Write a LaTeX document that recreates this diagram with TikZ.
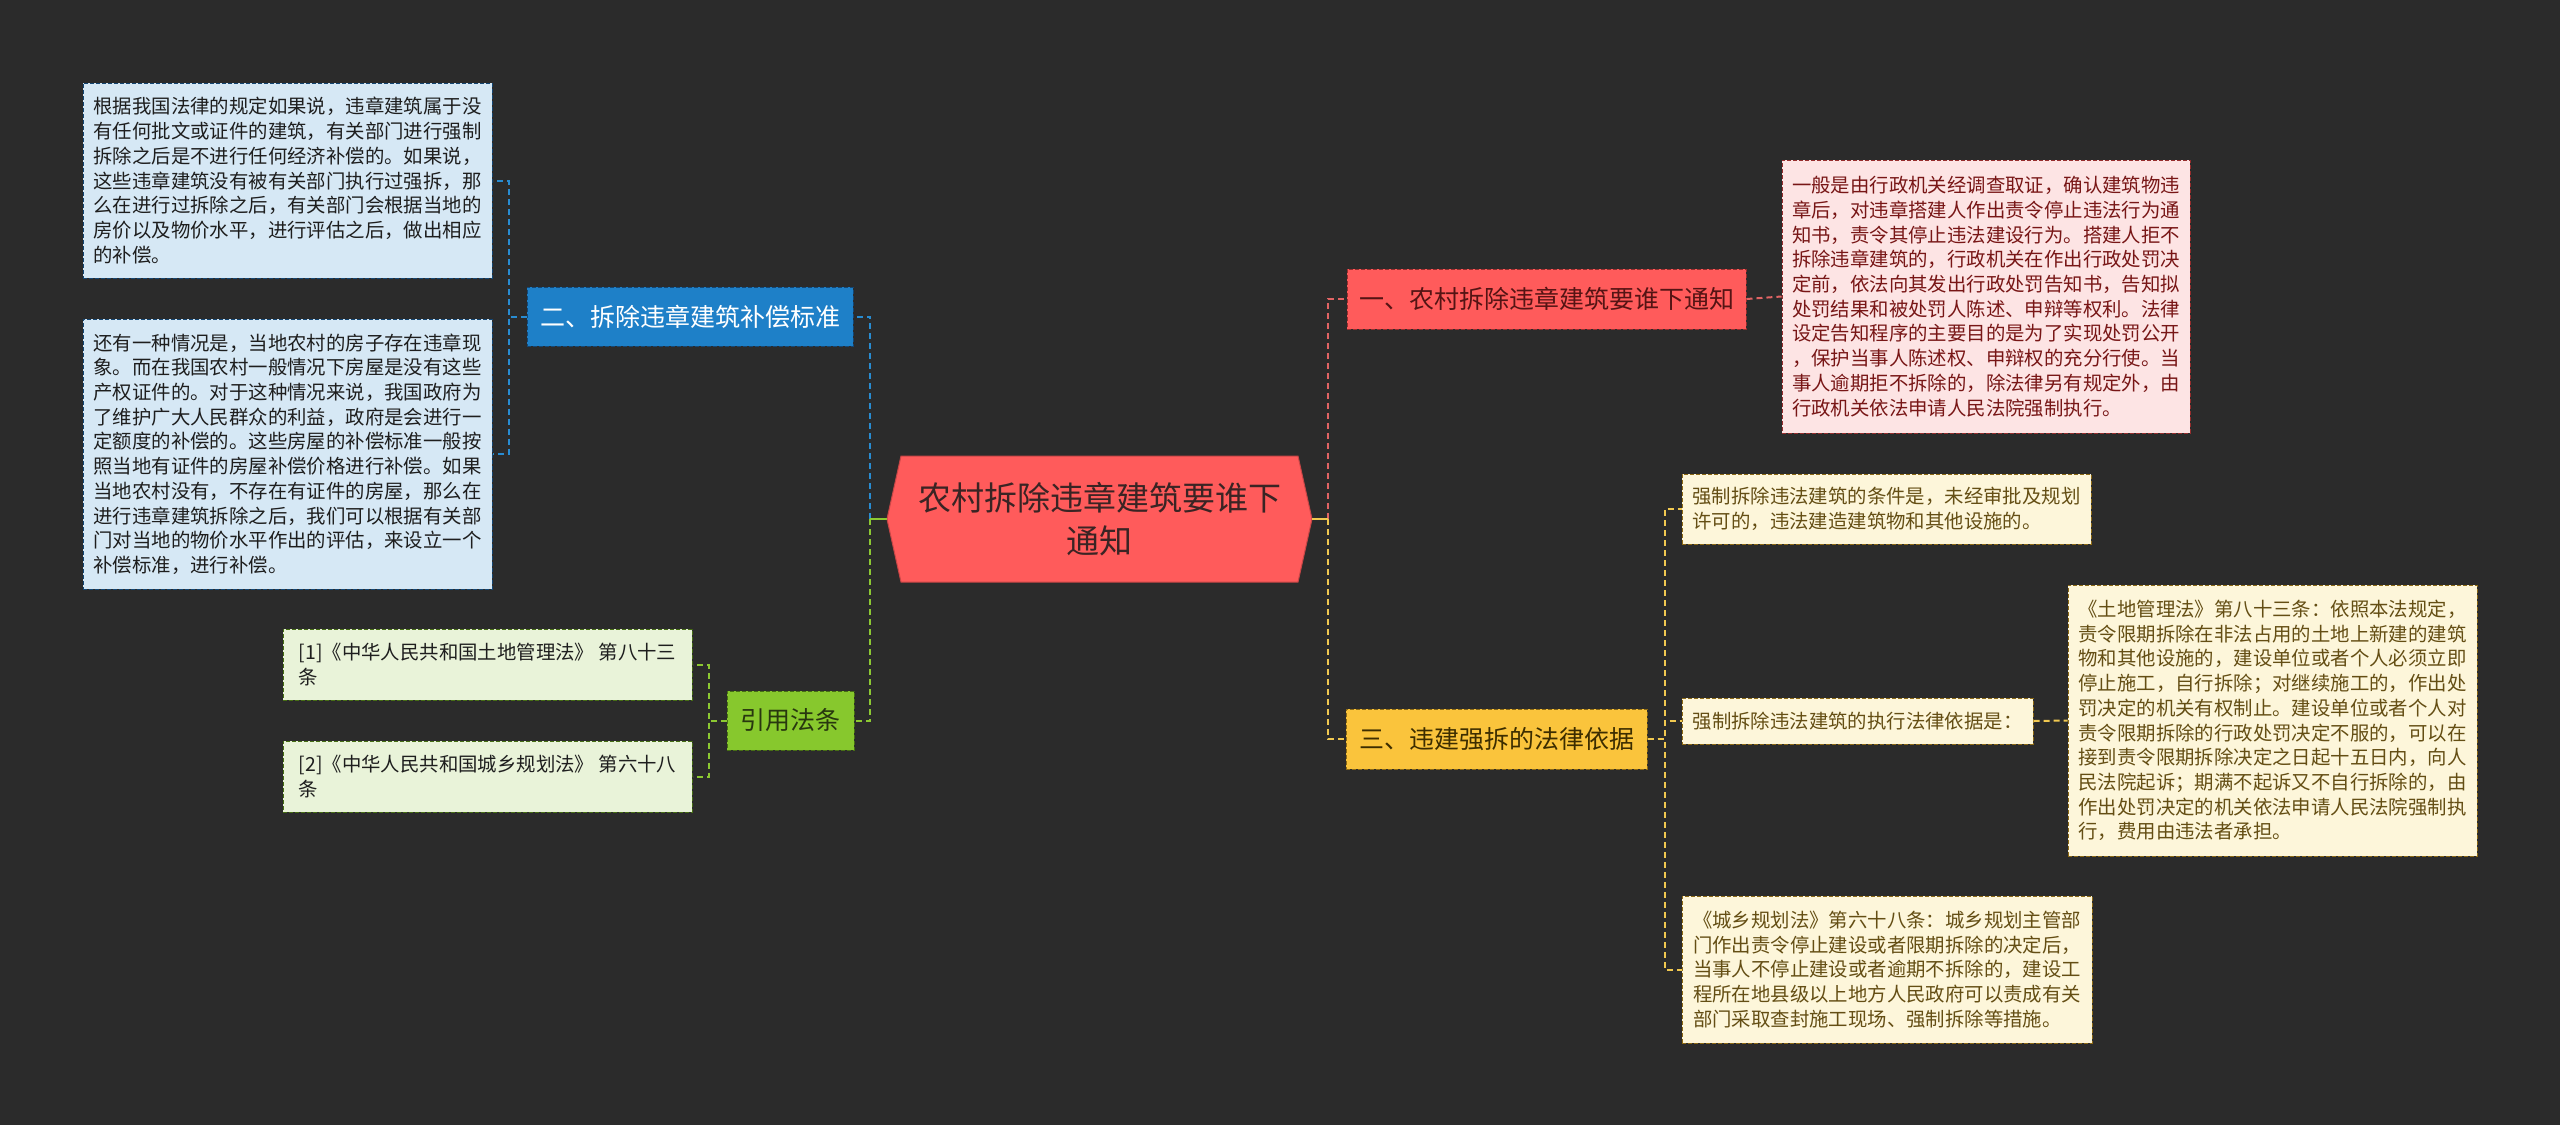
\documentclass[tikz,border=0pt]{standalone}
\usepackage{fontspec}
\setmainfont{Noto Sans CJK SC}
\usetikzlibrary{calc}
\definecolor{bg}{RGB}{43,43,43}
\definecolor{cfill}{RGB}{255,91,91}
\definecolor{cdraw}{RGB}{200,70,70}
\definecolor{ctext}{RGB}{58,36,36}
\definecolor{bluefill}{RGB}{30,128,200}
\definecolor{bluedraw}{RGB}{20,70,115}
\definecolor{bluelight}{RGB}{214,232,245}
\definecolor{bluec}{RGB}{40,140,210}
\definecolor{greenfill}{RGB}{135,200,45}
\definecolor{greendraw}{RGB}{70,110,20}
\definecolor{greenlight}{RGB}{233,243,217}
\definecolor{greenc}{RGB}{140,200,50}
\definecolor{greentext}{RGB}{40,55,15}
\definecolor{redfill}{RGB}{255,91,91}
\definecolor{reddraw}{RGB}{150,45,45}
\definecolor{redlight}{RGB}{253,228,228}
\definecolor{redc}{RGB}{225,100,100}
\definecolor{redtext}{RGB}{85,20,20}
\definecolor{redleaftext}{RGB}{120,22,22}
\definecolor{yelfill}{RGB}{250,196,60}
\definecolor{yeldraw}{RGB}{140,105,20}
\definecolor{yellight}{RGB}{253,246,218}
\definecolor{yelc}{RGB}{240,200,80}
\definecolor{yeltext}{RGB}{60,45,0}
\definecolor{yelleaftext}{RGB}{100,78,20}
\definecolor{darktext}{RGB}{30,30,30}
\begin{document}
\begin{tikzpicture}[x=1pt,y=-1pt,
  box/.style={draw, line width=1pt, dash pattern=on 4pt off 2pt, inner xsep=10pt, inner ysep=0pt, anchor=center},
  leaf/.style={box, align=left, font=\fontsize{19.4}{24.7}\selectfont},
  branch/.style={box, align=center, font=\fontsize{25}{30}\selectfont},
  conn/.style={line width=2pt, dash pattern=on 6pt off 4pt},
  stub/.style={line width=2.5pt}]
\useasboundingbox (0,0) rectangle (2560,1125);
\fill[bg] (0,0) rectangle (2560,1125);

% central topic (hexagon)
\filldraw[fill=cfill, draw=cdraw, line width=1pt] (887,519) -- (901,456) -- (1298,456) -- (1312,519) -- (1298,582) -- (901,582) -- cycle;
\node[minimum width=425pt, minimum height=126pt, inner sep=0pt, align=center, text=ctext, font=\fontsize{33}{43}\selectfont] (c) at (1099.5,519) {农村拆除违章建筑要谁下\\通知};

% left: blue branch
\node[branch, fill=bluefill, draw=bluedraw, text=white, minimum width=326pt, minimum height=59pt] (b2) at (690,316.5) {二、拆除违章建筑补偿标准};
\node[leaf, fill=bluelight, draw=bluedraw, text=darktext, minimum width=409pt, minimum height=195pt] (l1) at (287.5,180.5) {根据我国法律的规定如果说，违章建筑属于没\\有任何批文或证件的建筑，有关部门进行强制\\拆除之后是不进行任何经济补偿的。如果说，\\这些违章建筑没有被有关部门执行过强拆，那\\么在进行过拆除之后，有关部门会根据当地的\\房价以及物价水平，进行评估之后，做出相应\\的补偿。};
\node[leaf, fill=bluelight, draw=bluedraw, text=darktext, minimum width=409pt, minimum height=270pt] (l2) at (287.5,454) {还有一种情况是，当地农村的房子存在违章现\\象。而在我国农村一般情况下房屋是没有这些\\产权证件的。对于这种情况来说，我国政府为\\了维护广大人民群众的利益，政府是会进行一\\定额度的补偿的。这些房屋的补偿标准一般按\\照当地有证件的房屋补偿价格进行补偿。如果\\当地农村没有，不存在有证件的房屋，那么在\\进行违章建筑拆除之后，我们可以根据有关部\\门对当地的物价水平作出的评估，来设立一个\\补偿标准，进行补偿。};

% left: green branch
\node[branch, fill=greenfill, draw=greendraw, text=greentext, minimum width=127pt, minimum height=59pt] (b4) at (790.5,720.5) {引用法条};
\node[leaf, fill=greenlight, draw=greendraw, text=darktext, minimum width=409pt, minimum height=71pt] (g1) at (487.5,664.5) {[1]《中华人民共和国土地管理法》 第八十三\\条};
\node[leaf, fill=greenlight, draw=greendraw, text=darktext, minimum width=409pt, minimum height=71pt] (g2) at (487.5,776.5) {[2]《中华人民共和国城乡规划法》 第六十八\\条};

% right: red branch
\node[branch, fill=redfill, draw=reddraw, text=redtext, minimum width=399pt, minimum height=60pt] (b1) at (1546.5,299) {一、农村拆除违章建筑要谁下通知};
\node[leaf, fill=redlight, draw=reddraw, text=redleaftext, minimum width=408pt, minimum height=273pt] (r1) at (1986,296.5) {一般是由行政机关经调查取证，确认建筑物违\\章后，对违章搭建人作出责令停止违法行为通\\知书，责令其停止违法建设行为。搭建人拒不\\拆除违章建筑的，行政机关在作出行政处罚决\\定前，依法向其发出行政处罚告知书，告知拟\\处罚结果和被处罚人陈述、申辩等权利。法律\\设定告知程序的主要目的是为了实现处罚公开\\，保护当事人陈述权、申辩权的充分行使。当\\事人逾期拒不拆除的，除法律另有规定外，由\\行政机关依法申请人民法院强制执行。};

% right: yellow branch
\node[branch, fill=yelfill, draw=yeldraw, text=yeltext, minimum width=301pt, minimum height=60pt] (b3) at (1496.5,739) {三、违建强拆的法律依据};
\node[leaf, fill=yellight, draw=yeldraw, text=yelleaftext, minimum width=409pt, minimum height=70pt] (ya) at (1886.5,509) {强制拆除违法建筑的条件是，未经审批及规划\\许可的，违法建造建筑物和其他设施的。};
\node[leaf, fill=yellight, draw=yeldraw, text=yelleaftext, minimum width=351pt, minimum height=46pt] (yb) at (1857.5,721) {强制拆除违法建筑的执行法律依据是：};
\node[leaf, fill=yellight, draw=yeldraw, text=yelleaftext, minimum width=409pt, minimum height=271pt] (yc) at (2272.5,720.5) {《土地管理法》第八十三条：依照本法规定，\\责令限期拆除在非法占用的土地上新建的建筑\\物和其他设施的，建设单位或者个人必须立即\\停止施工，自行拆除；对继续施工的，作出处\\罚决定的机关有权制止。建设单位或者个人对\\责令限期拆除的行政处罚决定不服的，可以在\\接到责令限期拆除决定之日起十五日内，向人\\民法院起诉；期满不起诉又不自行拆除的，由\\作出处罚决定的机关依法申请人民法院强制执\\行，费用由违法者承担。};
\node[leaf, fill=yellight, draw=yeldraw, text=yelleaftext, minimum width=410pt, minimum height=147pt] (yd) at (1887,969.5) {《城乡规划法》第六十八条：城乡规划主管部\\门作出责令停止建设或者限期拆除的决定后，\\当事人不停止建设或者逾期不拆除的，建设工\\程所在地县级以上地方人民政府可以责成有关\\部门采取查封施工现场、强制拆除等措施。};

% junctions
\coordinate (jl) at (870,519);
\coordinate (jr) at (1328,519);

% connectors from the central topic
\draw[conn, bluec] (jl) |- (b2.east);
\draw[conn, greenc] (jl) |- (b4.east);
\draw[stub, greenc] (c.west) -- (jl);
\draw[conn, redc] (jr) |- (b1.west);
\draw[conn, yelc] (jr) |- (b3.west);
\draw[stub, yelc] (c.east) -- (jr);

% blue leaves
\draw[conn, bluec] (b2.west) -- ++(-18,0) |- (l1.east);
\draw[conn, bluec] (b2.west) -- ++(-18,0) |- (l2.east);
% green leaves
\draw[conn, greenc] (b4.west) -- ++(-18,0) |- (g1.east);
\draw[conn, greenc] (b4.west) -- ++(-18,0) |- (g2.east);
% red leaf
\draw[conn, redc] (b1.east) -- (r1.west);
% yellow leaves
\draw[conn, yelc] (b3.east) -- ++(17,0) |- (ya.west);
\draw[conn, yelc] (b3.east) -- ++(17,0) |- (yb.west);
\draw[conn, yelc] (b3.east) -- ++(17,0) |- (yd.west);
\draw[conn, yelc] (yb.east) -- (yc.west);
\end{tikzpicture}
\end{document}
